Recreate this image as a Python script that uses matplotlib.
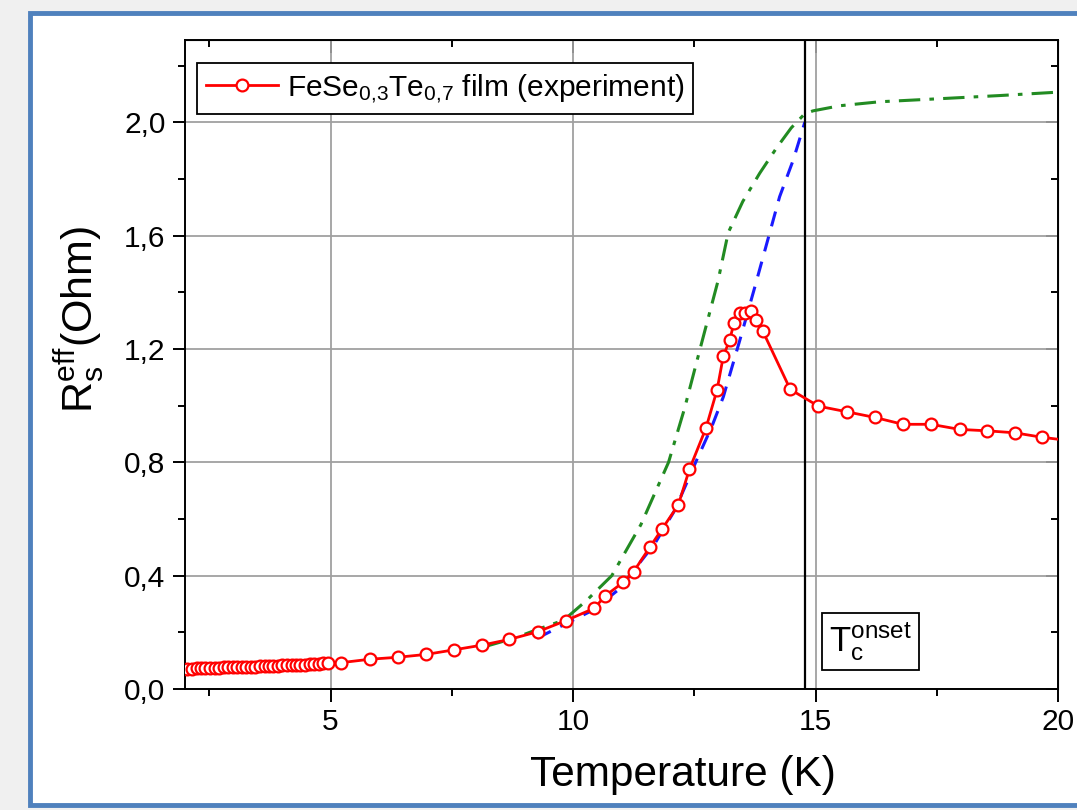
import matplotlib
matplotlib.use('Agg')
import matplotlib.pyplot as plt
from matplotlib.patches import Rectangle
from matplotlib.ticker import MultipleLocator, FuncFormatter

plt.rcParams['font.family'] = ['Liberation Sans', 'DejaVu Sans']
plt.rcParams['mathtext.fontset'] = 'custom'
plt.rcParams['mathtext.rm'] = 'Liberation Sans'
plt.rcParams['mathtext.it'] = 'Liberation Sans'

# experiment (red open circles)
t_exp = [2.05, 2.15, 2.24, 2.33, 2.42, 2.52, 2.61, 2.70, 2.80, 2.89, 2.98, 3.08,
         3.17, 3.26, 3.36, 3.45, 3.54, 3.64, 3.73, 3.82, 3.92, 4.01, 4.10, 4.20,
         4.29, 4.38, 4.48, 4.57, 4.66, 4.76, 4.85, 4.95,
         5.22, 5.81, 6.39, 6.97, 7.54, 8.13, 8.69, 9.27, 9.85, 10.44, 10.66, 11.03,
         11.25, 11.59, 11.83, 12.17, 12.40, 12.74, 12.97, 13.10, 13.23, 13.32, 13.44,
         13.54, 13.68, 13.78, 13.91, 14.48, 15.06, 15.65, 16.23, 16.80, 17.38, 17.97,
         18.54, 19.11, 19.68, 20.25]
r_exp = [0.072, 0.072, 0.073, 0.073, 0.074, 0.074, 0.075, 0.075, 0.076, 0.076, 0.077, 0.077,
         0.078, 0.078, 0.079, 0.079, 0.080, 0.080, 0.081, 0.081, 0.082, 0.083, 0.083, 0.084,
         0.085, 0.085, 0.086, 0.087, 0.088, 0.089, 0.090, 0.091,
         0.093, 0.105, 0.112, 0.122, 0.138, 0.155, 0.175, 0.202, 0.241, 0.285, 0.328, 0.376,
         0.414, 0.502, 0.563, 0.649, 0.775, 0.920, 1.055, 1.175, 1.231, 1.292, 1.325,
         1.325, 1.334, 1.302, 1.264, 1.057, 0.998, 0.978, 0.958, 0.934, 0.934, 0.916,
         0.911, 0.904, 0.888, 0.876]

# model curves
t_green = [8.13, 8.78, 9.33, 9.81, 10.29, 10.80, 11.40, 11.97, 12.30, 12.62, 12.99,
           13.20, 13.50, 13.85, 14.20, 14.50, 14.78, 14.95, 15.50, 16.32, 17.69, 18.80, 20.0]
r_green = [0.147, 0.179, 0.214, 0.243, 0.314, 0.400, 0.580, 0.800, 0.990, 1.200, 1.440,
           1.610, 1.720, 1.820, 1.910, 1.980, 2.030, 2.040, 2.058, 2.072, 2.084, 2.094, 2.106]

t_blue = [9.26, 9.87, 10.42, 10.97, 11.31, 11.69, 12.10, 12.55, 12.86, 13.10, 13.44,
          13.75, 14.26, 14.54, 14.78]
r_blue = [0.179, 0.232, 0.279, 0.355, 0.431, 0.514, 0.631, 0.808, 0.925, 1.031, 1.231,
          1.419, 1.737, 1.866, 2.000]

t_onset = 14.78

fig = plt.figure(figsize=(10.77, 8.1), dpi=100)
fig.patch.set_facecolor('#f0f0f0')
fig.patches.append(Rectangle((30 / 1077, 5 / 810), 1.0, (805 - 13) / 810,
                             transform=fig.transFigure, facecolor='white',
                             edgecolor='#4f81bd', linewidth=3.5, zorder=-10))

ax = fig.add_axes([185 / 1077, 121 / 810, (1058 - 185) / 1077, (689 - 40) / 810])
ax.set_zorder(1)

ax.grid(True, color='#a0a0a0', linewidth=1.3, zorder=0)
ax.plot(t_green, r_green, color='#228b22', linestyle=(0, (7, 3, 1.5, 3)), linewidth=2.2, zorder=2)
ax.plot(t_blue, r_blue, color='#1a1aff', linestyle=(0, (5, 3.5)), linewidth=2.2, zorder=2)
ax.plot(t_exp, r_exp, color='red', linewidth=2, marker='o', markersize=8.5,
        markerfacecolor='white', markeredgecolor='red', markeredgewidth=1.6,
        label=r'FeSe$\mathregular{_{0{,}3}}$Te$\mathregular{_{0{,}7}}$ film (experiment)', zorder=3)
ax.axvline(t_onset, color='black', linewidth=1.6, zorder=2)

ax.text(16.14, 0.168, r'$\mathregular{T_c^{onset}}$', fontsize=25, ha='center', va='center',
        bbox=dict(boxstyle='square,pad=0.2', facecolor='white', edgecolor='black', linewidth=1.3))

ax.set_xlim(2, 20)
ax.set_ylim(0, 2.29)
ax.xaxis.set_major_locator(MultipleLocator(5))
ax.xaxis.set_minor_locator(MultipleLocator(2.5))
ax.yaxis.set_major_locator(MultipleLocator(0.4))
ax.yaxis.set_minor_locator(MultipleLocator(0.2))
ax.yaxis.set_major_formatter(FuncFormatter(lambda v, p: f'{v:.1f}'.replace('.', ',')))
ax.tick_params(which='major', direction='out', length=9, width=1.4, labelsize=21.5, pad=5)
ax.tick_params(which='minor', direction='out', length=5, width=1.4)
for s in ax.spines.values():
    s.set_linewidth(1.4)

top = ax.secondary_xaxis('top')
top.xaxis.set_major_locator(MultipleLocator(5))
top.xaxis.set_minor_locator(MultipleLocator(2.5))
top.tick_params(which='both', direction='in', labeltop=False, width=1.4)
top.tick_params(which='major', length=9)
top.tick_params(which='minor', length=5)
right = ax.secondary_yaxis('right')
right.yaxis.set_major_locator(MultipleLocator(0.4))
right.yaxis.set_minor_locator(MultipleLocator(0.2))
right.tick_params(which='both', direction='in', labelright=False, width=1.4)
right.tick_params(which='major', length=9)
right.tick_params(which='minor', length=5)

ax.set_xlabel('Temperature (K)', fontsize=30.5)
ax.xaxis.set_label_coords(0.570, -0.101, transform=ax.transAxes)
ax.set_ylabel(r'$\mathregular{R_s^{eff}}$(Ohm)', fontsize=31)
ax.yaxis.set_label_coords(-0.090, 0.57, transform=ax.transAxes)

leg = ax.legend(loc='upper left', bbox_to_anchor=(12 / 873, 1 - 23 / 649), fontsize=21.5,
                frameon=True, fancybox=False, framealpha=1, edgecolor='black',
                handlelength=2.4, borderpad=0.3, handletextpad=0.3, borderaxespad=0)
leg.get_frame().set_linewidth(1.3)

plt.savefig('out.png', dpi=100, facecolor=fig.get_facecolor())
